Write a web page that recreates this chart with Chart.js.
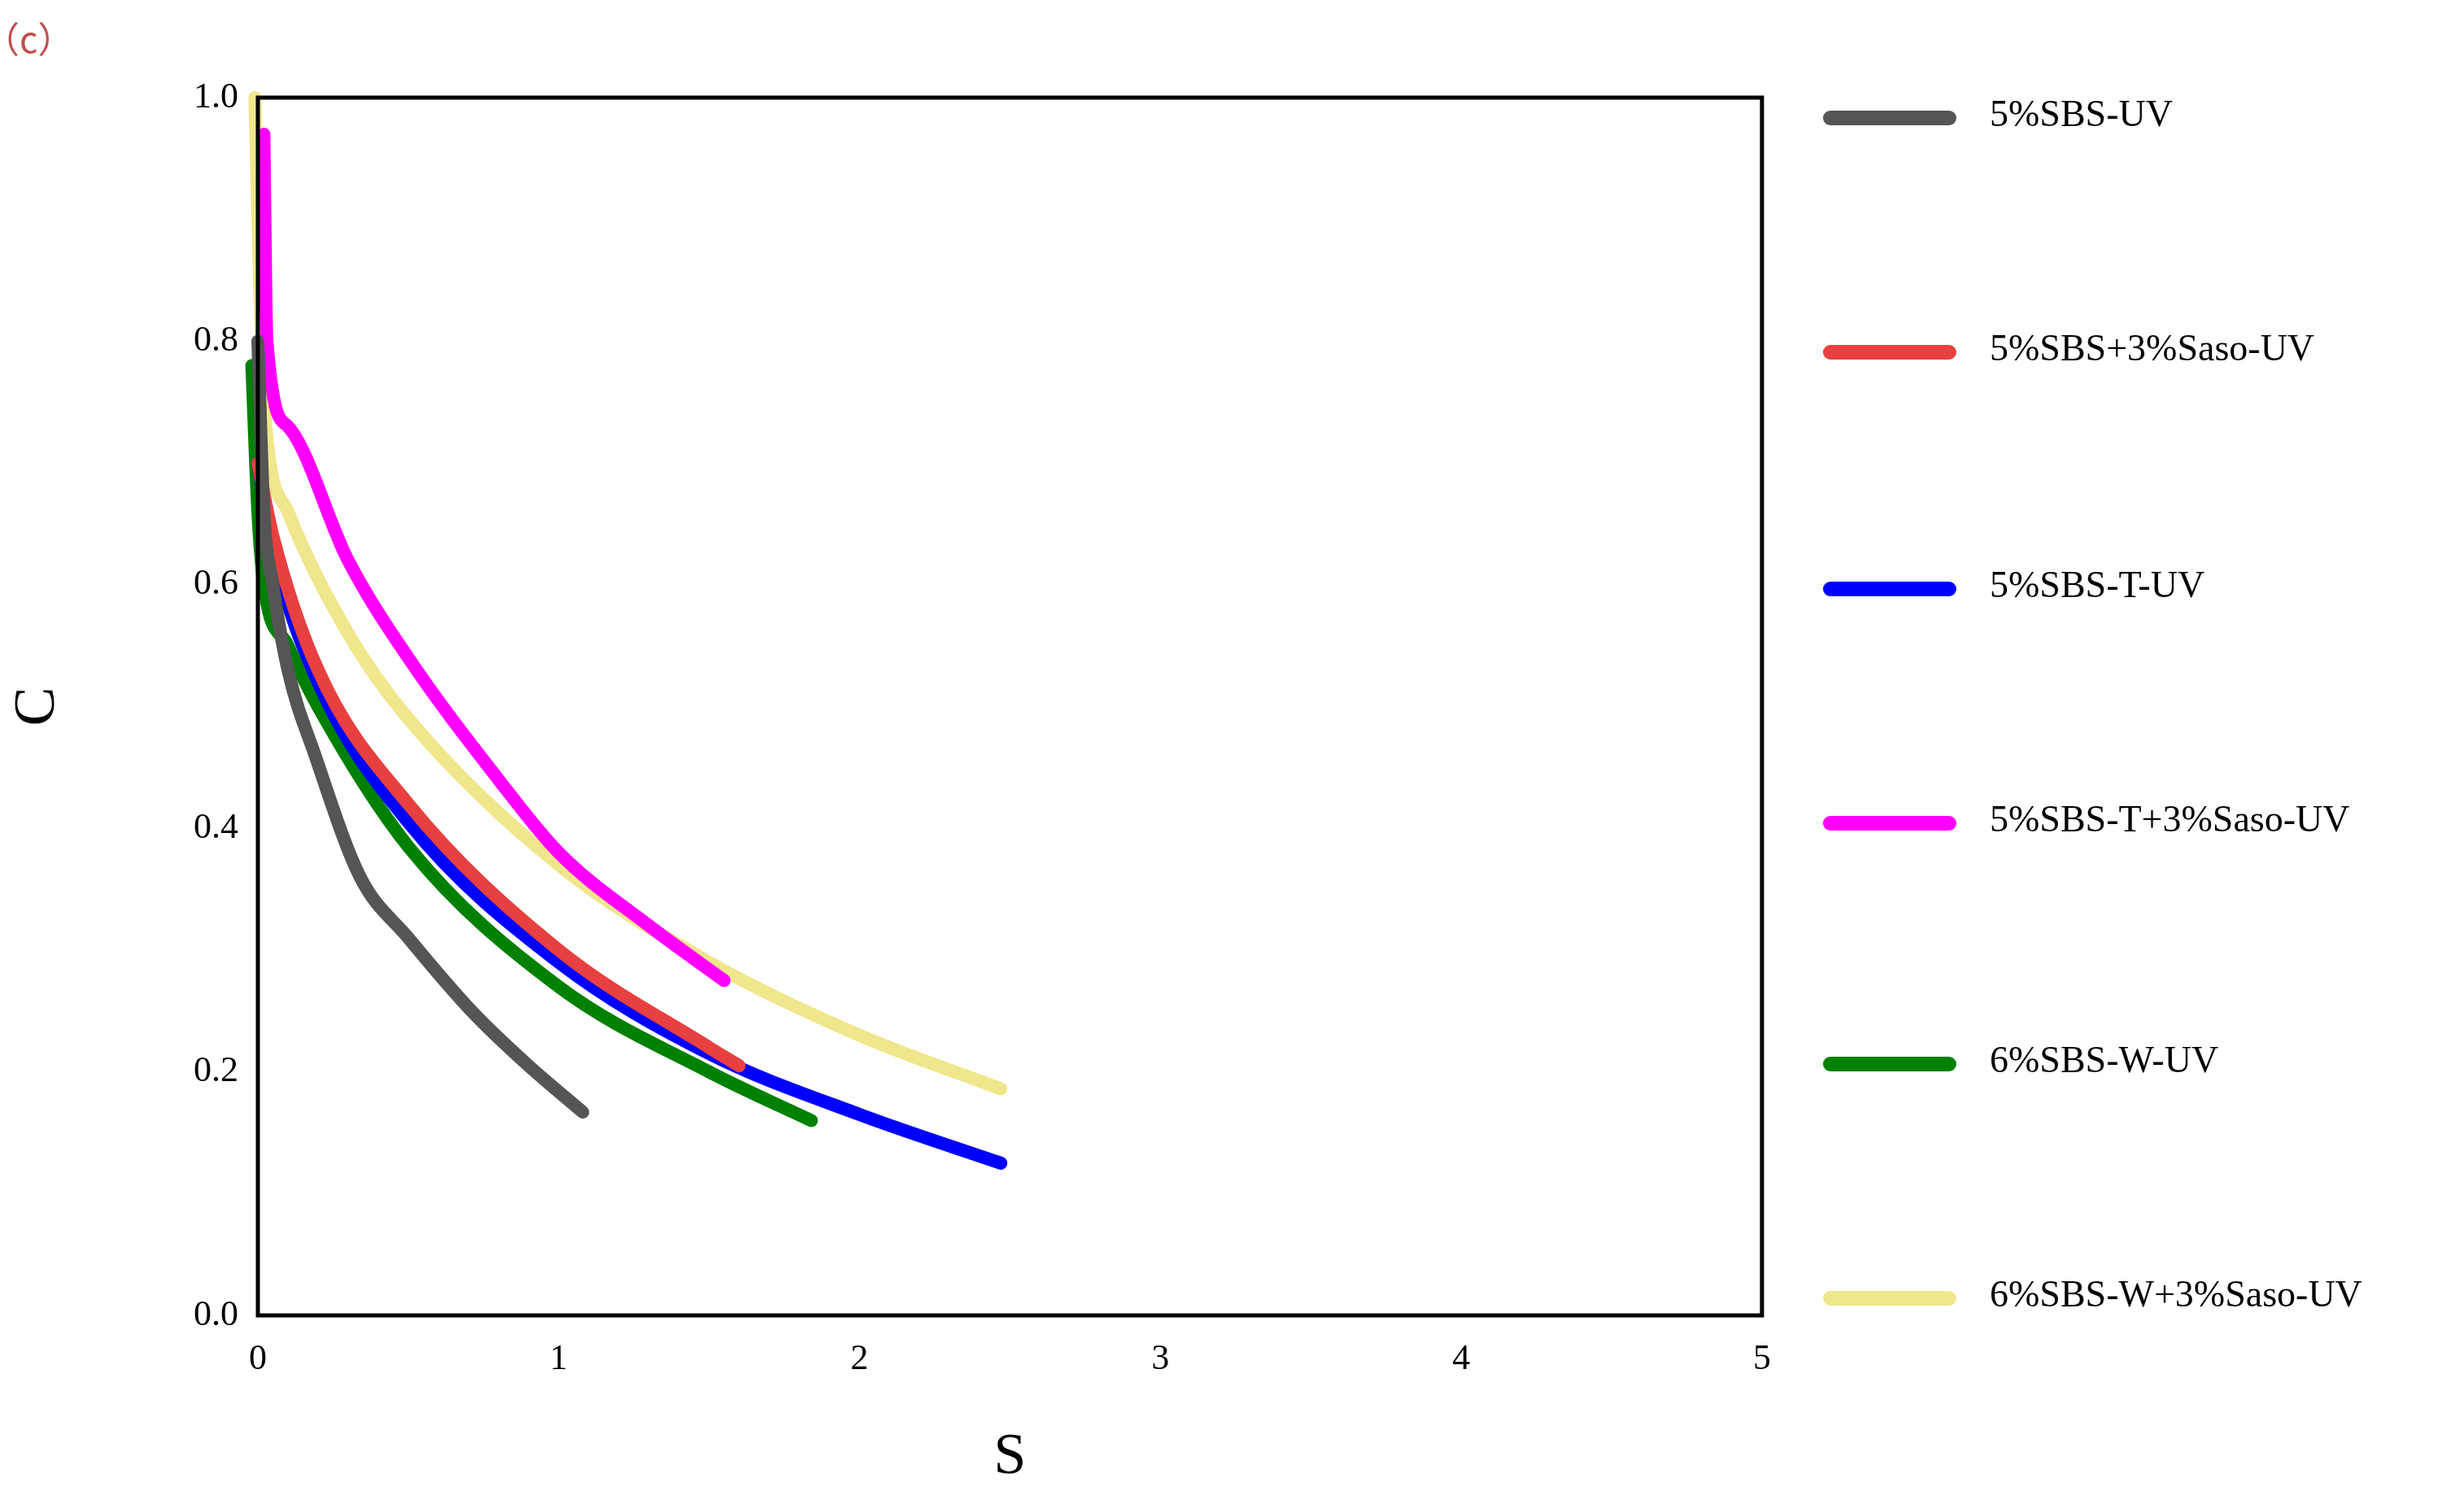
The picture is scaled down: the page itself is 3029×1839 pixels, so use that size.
<!DOCTYPE html>
<html><head><meta charset="utf-8">
<script src="https://cdn.jsdelivr.net/npm/chart.js@4"></script>
<style>html,body{margin:0;padding:0;background:#fff}#w{width:3029px;height:1839px}</style>
</head><body><div id="w"><canvas id="c"></canvas></div>
<script>
const seriesNames=["5%SBS-UV","5%SBS+3%Saso-UV","5%SBS-T-UV","5%SBS-T+3%Saso-UV","6%SBS-W-UV","6%SBS-W+3%Saso-UV"];
const seriesColors=["#555555","#e84040","#0000ff","#ff00ff","#008000","#f0e68c"];
const grayS=[0.0,0.02,0.05,0.1,0.19,0.34,0.5,0.71,0.9,1.08];
const grayC=[0.8,0.66,0.6,0.53,0.46,0.36,0.31,0.25,0.205,0.167];
const redS=[0.0,0.05,0.2,0.5,1.0,1.5,1.6];
const redC=[0.7,0.64,0.53,0.42,0.3,0.22,0.205];
const blueS=[0.0,0.05,0.2,0.5,1.0,1.5,2.0,2.47];
const blueC=[0.7,0.63,0.52,0.405,0.29,0.215,0.165,0.125];
const magS=[0.02,0.03,0.1,0.3,0.5,0.8,1.0,1.3,1.55];
const magC=[0.97,0.8,0.73,0.62,0.54,0.44,0.38,0.32,0.275];
const greenS=[-0.02,0.0,0.02,0.1,0.2,0.5,1.0,1.5,1.84];
const greenC=[0.78,0.66,0.6,0.55,0.5,0.385,0.27,0.2,0.16];
const yelS=[-0.01,0.0,0.02,0.1,0.3,0.5,1.0,1.5,2.0,2.47];
const yelC=[1.0,0.9,0.75,0.66,0.56,0.49,0.37,0.29,0.23,0.186];
const xs=[grayS,redS,blueS,magS,greenS,yelS], ys=[grayC,redC,blueC,magC,greenC,yelC];
const F="'Liberation Serif','DejaVu Serif',serif";
const datasets=seriesNames.map((n,i)=>({label:n,data:xs[i].map((x,j)=>({x:x,y:ys[i][j]})),borderColor:seriesColors[i],backgroundColor:seriesColors[i],borderWidth:16,borderCapStyle:'round',pointRadius:0,showLine:true,tension:0.4,cubicInterpolationMode:'monotone',clip:false}));
const deco={id:'deco',afterDraw(ch){const x=ch.ctx,a=ch.chartArea;x.save();x.strokeStyle='#000';x.lineWidth=5;x.strokeRect(a.left,a.top,a.right-a.left,a.bottom-a.top);
x.fillStyle='#c0504d';x.font="44px 'Noto Sans CJK SC',sans-serif";x.textBaseline='middle';x.fillText('（c）',-20,48);
const ly=[145,433,724,1012,1308,1596];x.lineCap='round';x.font="46px "+F;x.fillStyle='#000';
ch.data.datasets.forEach((d,i)=>{x.strokeStyle=d.borderColor;x.lineWidth=18;x.beginPath();x.moveTo(2250,ly[i]);x.lineTo(2396,ly[i]);x.stroke();x.fillText(d.label,2446,ly[i]-2);});
x.restore();}};
new Chart(document.getElementById('c'),{type:'scatter',data:{datasets},plugins:[deco],options:{responsive:true,maintainAspectRatio:false,animation:false,
layout:{padding:{left:0,top:120,right:863,bottom:0}},
plugins:{legend:{display:false},tooltip:{enabled:false}},
scales:{x:{type:'linear',min:0,max:5,afterFit(s){s.height=222;},grid:{display:false,drawTicks:true,tickLength:14,tickWidth:4,color:'#000'},border:{display:false},
ticks:{stepSize:0.5,color:'#000',font:{size:44,family:F},padding:14,callback:v=>Number.isInteger(v)?String(v):''},
title:{display:true,text:'S',color:'#000',font:{size:72,family:F},padding:{top:4}}},
y:{type:'linear',min:0,max:1,afterFit(s){s.width=317;},grid:{display:false,drawTicks:true,tickLength:14,tickWidth:4,color:'#000'},border:{display:false},
ticks:{stepSize:0.1,color:'#000',font:{size:44,family:F},padding:10,callback:v=>{const r=Math.round(v*10);return r%2===0?(r/10).toFixed(1):'';}},
title:{display:true,text:'C',color:'#000',font:{size:72,family:F},padding:{bottom:60}}}}}});
</script></body></html>
